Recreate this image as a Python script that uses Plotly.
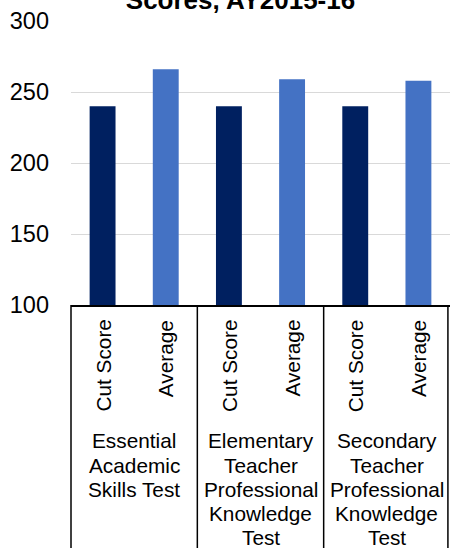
import plotly.graph_objects as go

# Licensure test results, AY2015-16
tests = [
    ["Essential", "Academic", "Skills Test"],
    ["Elementary", "Teacher", "Professional", "Knowledge", "Test"],
    ["Secondary", "Teacher", "Professional", "Knowledge", "Test"],
]
measures = ["Cut Score", "Average"]
cut_scores = [240, 240, 240]
averages = [266, 259, 258]
y_ticks = [100, 150, 200, 250, 300]

colors = {"Cut Score": "#002060", "Average": "#4472C4"}
FONT = "Arial, Liberation Sans, sans-serif"

# one category slot per (test, measure) pair, in reading order
test_names = [" ".join(t) for t in tests]
cats = [f"{name} | {m}" for name in test_names for m in measures]

fig = go.Figure()
for m, vals in zip(measures, [cut_scores, averages]):
    fig.add_trace(go.Bar(
        x=[f"{name} | {m}" for name in test_names],
        y=vals,
        name=m,
        marker=dict(color=colors[m], line=dict(width=0)),
        width=0.41,
        showlegend=False,
    ))

annotations = []
# rotated measure labels under each bar
for c in cats:
    annotations.append(dict(
        x=c, xref="x", y=0, yref="paper",
        text=c.split(" | ")[1], textangle=-90,
        xanchor="center", yanchor="top", yshift=-13,
        showarrow=False, font=dict(family=FONT, size=20.8, color="#000000"),
    ))

# group labels, one annotation per line for tight line spacing
for name, lines in zip(test_names, tests):
    for i, line in enumerate(lines):
        annotations.append(dict(
            x=0.5 * (cats.index(f"{name} | Cut Score") + cats.index(f"{name} | Average")),
            xref="x", y=0, yref="paper",
            text=line, xanchor="center", yanchor="middle",
            yshift=-(135.7 + 24.3 * i),
            showarrow=False, font=dict(family=FONT, size=20.8, color="#000000"),
        ))

# boxes around the category labels
n_groups = len(tests)
shapes = []
for k in range(n_groups + 1):
    xp = min(k / n_groups, 0.9945)
    shapes.append(dict(
        type="line", xref="paper", yref="paper",
        x0=xp, x1=xp, y0=0, y1=-1.2,
        line=dict(color="#000000", width=1.5),
    ))

fig.update_layout(
    width=450, height=548,
    margin=dict(l=71, r=0, t=21, b=243),
    paper_bgcolor="#ffffff", plot_bgcolor="#ffffff",
    barmode="overlay",
    title=dict(
        text="<b>Scores, AY2015-16</b>",
        x=240.5 / 450, xanchor="center",
        y=1.0, yref="container", yanchor="middle",
        font=dict(family=FONT, size=26, color="#000000"),
    ),
    xaxis=dict(
        type="category", categoryorder="array", categoryarray=cats,
        showticklabels=False, ticks="", showgrid=False,
        showline=True, linecolor="#000000", linewidth=1.5,
        range=[-0.5, len(cats) - 0.5], zeroline=False,
    ),
    yaxis=dict(
        range=[100, 300], tickvals=y_ticks,
        showgrid=True, gridcolor="#d9d9d9", gridwidth=1.3,
        zeroline=False, showline=False, ticks="",
        ticklabelstandoff=21,
        tickfont=dict(family=FONT, size=23.5, color="#000000"),
    ),
    annotations=annotations,
    shapes=shapes,
)

fig.write_html("out.html")
